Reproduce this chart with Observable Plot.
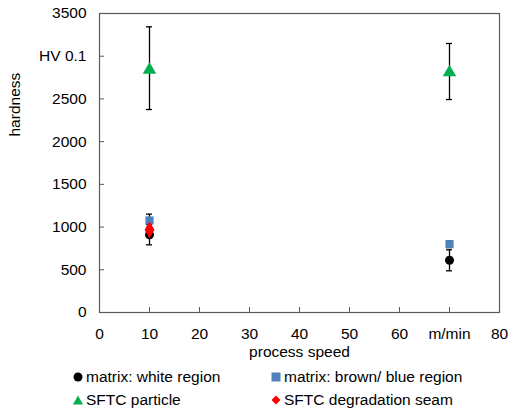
<!DOCTYPE html>
<html><head><meta charset="utf-8">
<script src="https://cdn.jsdelivr.net/npm/d3@7"></script>
<script src="https://cdn.jsdelivr.net/npm/@observablehq/plot@0.6"></script>
<style>
body{margin:0;background:#fff;font-family:"Liberation Sans",Arial,sans-serif;}
#wrap{position:relative;width:511px;height:414px;}
.leg{position:absolute;font-size:15.5px;color:#000;display:flex;align-items:center;white-space:nowrap;}
.leg svg{margin-right:2px;}
</style></head>
<body><div id="wrap"><div id="chart"></div></div>
<script>
const speed = [10, 70];
const seriesNames = ["matrix: white region", "matrix: brown/ blue region", "SFTC particle", "SFTC degradation seam"];
const whiteVal = [910, 612];
const whiteLo = [792, 488];
const whiteHi = [1030, 734];
const blueVal = [1077, 800];
const blueLo = [1000, 760];
const blueHi = [1151, 840];
const particleVal = [2840, 2810];
const particleLo = [2376, 2493];
const particleHi = [3344, 3149];
const seamVal = [968];
const seamSpeed = [10];
const yTicks = [0, 500, 1000, 1500, 2000, 2500, 3000, 3500];
const yTickLabels = ["0", "500", "1000", "1500", "2000", "2500", "HV 0.1", "3500"];
const xTicks = [0, 10, 20, 30, 40, 50, 60, 70, 80];
const xTickLabels = ["0", "10", "20", "30", "40", "50", "60", "m/min", "80"];

const rows = (vals, lo, hi) => speed.map((s, i) => ({x: s, y: vals[i], lo: lo ? lo[i] : null, hi: hi ? hi[i] : null}));
const white = rows(whiteVal, whiteLo, whiteHi);
const blue = rows(blueVal, blueLo, blueHi);
const particle = rows(particleVal, particleLo, particleHi);
const seam = seamSpeed.map((s, i) => ({x: s, y: seamVal[i]}));
const cap = 0.6;

function errMarks(data) {
  return [
    Plot.ruleX(data, {x: "x", y1: "lo", y2: "hi", stroke: "#000", strokeWidth: 1.3}),
    Plot.ruleY(data, {y: "lo", x1: d => d.x - cap, x2: d => d.x + cap, stroke: "#000", strokeWidth: 1.3}),
    Plot.ruleY(data, {y: "hi", x1: d => d.x - cap, x2: d => d.x + cap, stroke: "#000", strokeWidth: 1.3})
  ];
}

const chart = Plot.plot({
  width: 511, height: 362,
  marginTop: 13, marginBottom: 50, marginLeft: 99, marginRight: 12,
  style: {fontFamily: "'Liberation Sans', Arial, sans-serif", fontSize: "15.5px", color: "#000"},
  x: {domain: [0, 80]},
  y: {domain: [0, 3500]},
  marks: [
    Plot.axisY({ticks: yTicks, tickFormat: (d, i) => yTickLabels[yTicks.indexOf(d)], tickSize: 0, tickPadding: 13, label: null, fontSize: 15.5}),
    Plot.axisY({ticks: yTicks, tickSize: -5, text: null, label: null, stroke: "#595959"}),
    Plot.axisX({ticks: xTicks, tickFormat: d => xTickLabels[xTicks.indexOf(d)], tickSize: 0, tickPadding: 15, label: null, fontSize: 15.5}),
    Plot.axisX({ticks: xTicks, tickSize: -5, text: null, label: null, stroke: "#595959"}),
    Plot.frame({stroke: "#595959", strokeWidth: 1.2}),
    Plot.text(["process speed"], {frameAnchor: "bottom", dy: 44, fontSize: 15.5}),
    Plot.text(["hardness"], {frameAnchor: "top-left", dx: -91, dy: 123, rotate: -90, fontSize: 15.5}),
    ...errMarks(white),
    Plot.dot(white, {x: "x", y: "y", symbol: "circle", r: 4.5, fill: "#000"}),
    ...errMarks(blue),
    Plot.dot(blue, {x: "x", y: "y", symbol: "square", r: 4.6, fill: "#4F81BD"}),
    ...errMarks(particle),
    Plot.dot(particle, {x: "x", y: "y", symbol: "triangle", r: 5, fill: "#00B050"}),
    Plot.dot(seam, {x: "x", y: "y", symbol: "diamond", r: 5.2, fill: "#FF0000"})
  ]
});
document.getElementById("chart").append(chart);

const legItems = [
  {name: seriesNames[0], left: 72, top: 368, shape: '<circle cx="6" cy="6" r="4.5" fill="#000"/>'},
  {name: seriesNames[1], left: 270, top: 368, shape: '<rect x="1.5" y="1.5" width="9" height="9" fill="#4F81BD"/>'},
  {name: seriesNames[2], left: 72, top: 391, shape: '<path d="M6,1.5 L11,10.5 L1,10.5 Z" fill="#00B050"/>'},
  {name: seriesNames[3], left: 270, top: 391, shape: '<path d="M6,1.5 L10.5,6 L6,10.5 L1.5,6 Z" fill="#FF0000"/>'}
];
const wrap = document.getElementById("wrap");
for (const it of legItems) {
  const d = document.createElement("div");
  d.className = "leg";
  d.style.left = it.left + "px";
  d.style.top = it.top + "px";
  d.innerHTML = '<svg width="12" height="12">' + it.shape + '</svg>';
  const s = document.createElement("span");
  s.textContent = it.name;
  d.append(s);
  wrap.append(d);
}
</script>
</body></html>
